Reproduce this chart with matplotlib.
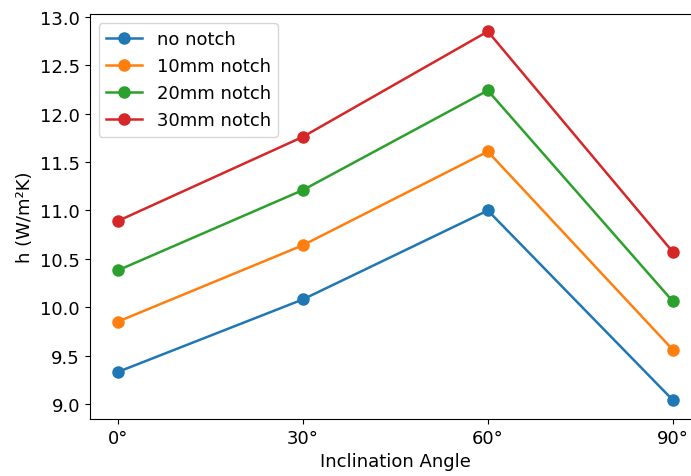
import matplotlib
matplotlib.use("Agg")
import matplotlib.pyplot as plt

#%% Data
angles = [0, 30, 60, 90]
angle_labels = ["0°", "30°", "60°", "90°"]
no_notch = [9.33, 10.08, 11.00, 9.04]
notch_10 = [9.85, 10.64, 11.61, 9.56]
notch_20 = [10.38, 11.21, 12.24, 10.06]
notch_30 = [10.89, 11.76, 12.85, 10.57]

series = {
    "no notch": no_notch,
    "10mm notch": notch_10,
    "20mm notch": notch_20,
    "30mm notch": notch_30,
}

#%% Plot
plt.rcParams['font.size'] = 13
fig = plt.figure(figsize=(6.91, 4.77), dpi=100)
ax = fig.add_axes([0.130, 0.1195, 0.884, 0.849])

for name, vals in series.items():
    ax.plot(angles, vals, marker='o', label=name, linewidth=1.8, markersize=8)

ax.set_xticks(angles)
ax.set_xticklabels(angle_labels)
ax.set_xlim(-4.5, 94.5)
ax.set_ylim(8.845, 13.03)
ax.set_xlabel("Inclination Angle")
ax.set_ylabel("h (W/m²K)")
ax.legend(loc='upper left')

fig.savefig("out.png", dpi=100)
